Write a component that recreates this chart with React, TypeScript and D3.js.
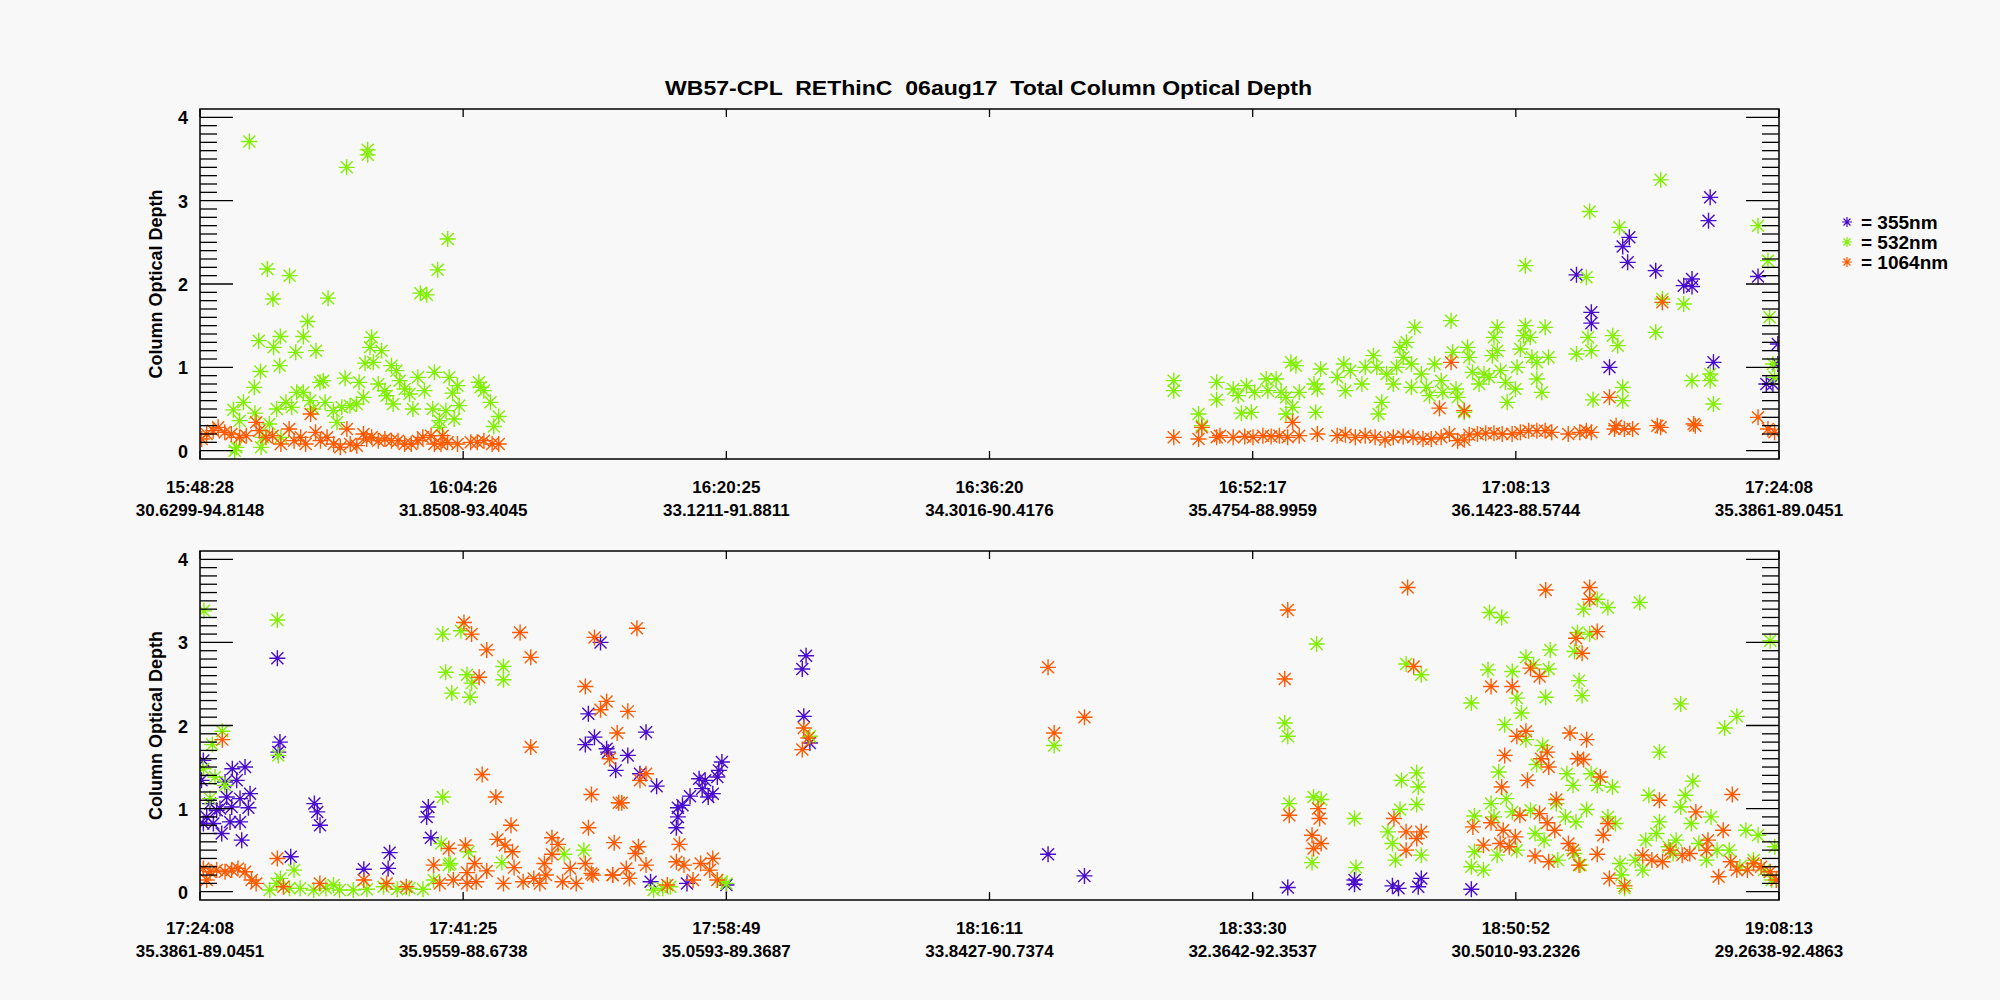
import React from "react";
import * as d3 from "d3";

// [minutes after panel start, optical depth]
type Pt = [number, number];

const title = "WB57-CPL  REThinC  06aug17  Total Column Optical Depth";
const yLabel = "Column Optical Depth";
const legendLabels = ["= 355nm", "= 532nm", "= 1064nm"];
const colors = ["#4a0ccc", "#80f000", "#ff5a00"];

const topSpan = 95.67;
const bottomSpan = 104.08;
const topTimes = ["15:48:28", "16:04:26", "16:20:25", "16:36:20", "16:52:17", "17:08:13", "17:24:08"];
const topCoords = ["30.6299-94.8148", "31.8508-93.4045", "33.1211-91.8811", "34.3016-90.4176", "35.4754-88.9959", "36.1423-88.5744", "35.3861-89.0451"];
const bottomTimes = ["17:24:08", "17:41:25", "17:58:49", "18:16:11", "18:33:30", "18:50:52", "19:08:13"];
const bottomCoords = ["35.3861-89.0451", "35.9559-88.6738", "35.0593-89.3687", "33.8427-90.7374", "32.3642-92.3537", "30.5010-93.2326", "29.2638-92.4863"];

const top355: Pt[] = [
  [91.5, 3.04], [91.4, 2.76], [86.6, 2.56], [86.2, 2.45], [86.5, 2.26], [83.4, 2.11], [88.2, 2.16], [89.9, 1.98],
  [90.4, 2.06], [90.4, 1.97], [84.3, 1.66], [84.3, 1.53], [85.4, 1.0], [91.7, 1.06], [94.4, 2.09], [95.6, 1.28],
  [95.3, 0.8], [95.6, 1.04], [94.9, 0.8],
];
const top532: Pt[] = [
  [2.99, 3.71], [8.89, 3.4], [10.16, 3.61], [10.16, 3.55], [4.08, 2.18], [5.43, 2.1], [4.42, 1.82], [7.76, 1.83],
  [15.01, 2.54], [14.4, 2.17], [13.35, 1.89], [13.74, 1.87], [3.56, 1.32], [4.46, 1.24], [4.87, 1.37], [4.83, 1.02],
  [5.8, 1.18], [6.26, 1.37], [6.52, 1.55], [7.03, 1.2], [3.66, 0.95], [3.29, 0.76], [2.63, 0.58], [2.02, 0.49],
  [3.33, 0.45], [4.65, 0.5], [5.21, 0.58], [5.86, 0.7], [6.26, 0.7], [5.56, 0.52], [6.67, 0.6], [7.27, 0.82],
  [7.47, 0.84], [6.87, 0.5], [7.58, 0.58], [8.08, 0.48], [8.79, 0.87], [8.59, 0.52], [9.09, 0.54], [9.49, 0.56],
  [9.64, 0.82], [9.9, 0.64], [10.0, 1.05], [10.4, 1.36], [10.3, 1.24], [10.5, 1.06], [11.0, 1.2], [10.8, 0.8],
  [11.2, 0.72], [11.3, 0.66], [11.7, 0.56], [11.6, 1.02], [11.9, 0.96], [12.1, 0.84], [12.4, 0.74], [12.7, 0.68],
  [12.9, 0.5], [13.2, 0.88], [13.6, 0.72], [14.2, 0.94], [14.1, 0.5], [14.5, 0.36], [14.5, 0.28], [14.9, 0.48],
  [15.1, 0.88], [15.3, 0.69], [15.6, 0.78], [15.7, 0.54], [15.4, 0.38], [16.9, 0.82], [17.0, 0.76], [17.2, 0.72],
  [17.6, 0.58], [17.8, 0.29], [18.1, 0.41], [2.2, 0.04], [2.1, 0.0], [3.7, 0.04], [2.4, 0.36], [3.8, 0.16],
  [4.2, 0.32], [4.9, 0.16], [8.3, 0.34],
  [59.0, 0.84], [59.0, 0.72], [60.5, 0.44], [60.7, 0.3], [61.6, 0.82], [61.6, 0.61], [62.6, 0.74], [62.9, 0.66],
  [63.1, 0.45], [63.4, 0.78], [63.7, 0.46], [63.9, 0.7], [64.6, 0.86], [64.7, 0.72], [65.2, 0.86], [65.5, 0.7],
  [65.8, 0.64], [65.8, 0.44], [66.1, 1.06], [66.4, 1.02], [66.2, 0.52], [66.6, 0.7], [67.5, 0.8], [67.9, 0.98],
  [67.6, 0.46], [67.7, 0.74], [68.9, 0.88], [69.3, 1.04], [69.4, 0.72], [69.7, 0.96], [70.4, 0.8], [70.6, 1.0],
  [71.1, 1.14], [71.3, 1.0], [71.4, 0.44], [71.6, 0.58], [71.9, 0.92], [72.3, 0.8], [72.5, 1.0], [72.7, 1.24],
  [73.1, 1.3], [72.9, 1.12], [73.4, 1.04], [73.6, 1.48], [73.4, 0.76], [74.0, 0.92], [74.3, 0.76], [74.5, 0.66],
  [74.8, 1.04], [75.2, 0.84], [75.3, 0.7], [75.8, 1.56], [75.9, 1.18], [76.1, 0.74], [76.2, 0.64], [76.6, 0.46],
  [76.8, 1.24], [76.9, 1.12], [77.1, 0.94], [77.5, 0.8], [77.8, 0.92], [78.1, 0.88], [78.3, 1.14], [78.4, 1.36],
  [78.6, 1.48], [78.6, 1.2], [78.8, 0.96], [79.1, 0.82], [79.2, 0.58], [79.7, 0.74], [79.8, 1.0], [80.0, 1.22],
  [80.2, 1.38], [80.3, 1.5], [80.3, 2.22], [80.6, 1.36], [80.7, 1.12], [81.0, 1.06], [81.0, 0.86], [81.3, 0.7],
  [81.5, 1.48], [81.7, 1.12], [83.4, 1.16], [84.0, 2.08], [84.1, 1.36], [84.3, 1.2], [84.4, 0.61], [85.6, 1.38],
  [85.9, 1.26], [86.0, 2.68], [86.2, 0.6], [86.2, 0.76], [88.5, 3.25], [84.2, 2.87], [88.6, 1.82], [89.9, 1.76],
  [88.2, 1.42], [90.4, 0.84], [91.5, 0.84], [91.7, 0.56], [91.5, 0.92], [94.4, 2.7], [95.0, 2.28], [95.1, 1.6],
  [95.3, 1.04], [95.4, 0.88],
];
const top1064: Pt[] = [
  [0.1, 0.14], [0.4, 0.2], [0.8, 0.24], [1.1, 0.28], [1.5, 0.22], [1.9, 0.2], [2.4, 0.16], [2.8, 0.18],
  [3.4, 0.34], [3.6, 0.24], [4.0, 0.16], [4.4, 0.18], [4.9, 0.08], [5.4, 0.26], [5.7, 0.12], [6.1, 0.16],
  [6.4, 0.08], [6.7, 0.44], [7.0, 0.22], [7.3, 0.12], [7.7, 0.16], [8.1, 0.08], [8.5, 0.04], [8.9, 0.26],
  [9.1, 0.08], [9.5, 0.06], [9.9, 0.2], [10.1, 0.14], [10.4, 0.16], [10.8, 0.12], [11.2, 0.14], [11.6, 0.12],
  [12.0, 0.12], [12.4, 0.08], [12.8, 0.08], [13.2, 0.12], [13.5, 0.16], [14.0, 0.18], [14.2, 0.08], [14.6, 0.08],
  [15.0, 0.1], [15.6, 0.08], [16.8, 0.1], [17.2, 0.12], [17.7, 0.08], [18.1, 0.08], [16.4, 0.1], [14.7, 0.18],
  [59.0, 0.16], [60.5, 0.14], [60.7, 0.28], [61.6, 0.16], [61.8, 0.18], [62.6, 0.16], [63.3, 0.17], [63.8, 0.16],
  [64.4, 0.18], [64.9, 0.17], [65.4, 0.18], [65.9, 0.16], [66.2, 0.34], [66.6, 0.18], [67.7, 0.2], [68.9, 0.18],
  [69.4, 0.19], [70.0, 0.16], [70.6, 0.18], [71.2, 0.16], [71.8, 0.13], [72.3, 0.16], [72.9, 0.17], [73.5, 0.16],
  [74.1, 0.14], [74.6, 0.14], [75.2, 0.16], [75.7, 0.2], [75.8, 1.06], [76.2, 0.12], [76.6, 0.13], [76.9, 0.19],
  [76.6, 0.48], [75.1, 0.51], [77.4, 0.2], [77.9, 0.21], [78.4, 0.21], [78.9, 0.2], [79.5, 0.2], [80.0, 0.22],
  [80.5, 0.24], [81.0, 0.24], [81.5, 0.24], [81.9, 0.22], [82.9, 0.2], [83.6, 0.22], [84.0, 0.24], [84.3, 0.22],
  [85.4, 0.64], [85.8, 0.3], [86.3, 0.26], [86.8, 0.26], [88.6, 1.78], [90.5, 0.32], [94.4, 0.4], [95.0, 0.26],
  [95.4, 0.22], [88.3, 0.3], [85.7, 0.26], [88.5, 0.28], [90.6, 0.3],
];

const bottom355: Pt[] = [
  [5.1, 2.81], [5.27, 1.8], [5.16, 1.68], [0.22, 1.58], [2.13, 1.48], [2.97, 1.5], [2.42, 1.34], [1.65, 1.32],
  [3.3, 1.18], [2.64, 1.12], [1.76, 1.14], [3.19, 1.01], [2.09, 1.02], [1.32, 1.0], [0.66, 1.06], [1.1, 0.98],
  [0.44, 0.9], [1.98, 0.84], [2.64, 0.84], [0.88, 0.82], [0.22, 0.82], [1.43, 0.7], [2.75, 0.62], [0.1, 1.34],
  [7.54, 1.06], [7.73, 0.96], [7.91, 0.8], [15.05, 1.02], [14.94, 0.9], [15.22, 0.65], [25.6, 2.14], [26.0, 1.86],
  [25.4, 1.77], [26.8, 1.72], [26.4, 3.0], [27.4, 1.46], [5.98, 0.42], [12.5, 0.47], [12.4, 0.28], [10.8, 0.27],
  [26.9, 1.68], [39.95, 2.84], [39.7, 2.68], [39.8, 2.11], [40.2, 1.79], [29.4, 1.92], [28.2, 1.64], [29.0, 1.42],
  [30.1, 1.27], [34.4, 1.56], [34.2, 1.46], [34.1, 1.38], [32.9, 1.36], [33.3, 1.34], [33.1, 1.24], [33.8, 1.18],
  [33.5, 1.14], [32.3, 1.15], [31.8, 1.04], [31.5, 1.01], [31.5, 0.9], [31.4, 0.77], [55.9, 0.45], [58.3, 0.19],
  [32.1, 0.1], [29.7, 0.12], [34.7, 0.08], [71.7, 0.05], [76.1, 0.09], [78.6, 0.07], [79.0, 0.04], [80.3, 0.06],
  [80.5, 0.16], [83.8, 0.03], [76.1, 0.14],
];
const bottom532: Pt[] = [
  [0.26, 3.38], [5.1, 3.27], [5.16, 1.64], [1.47, 1.93], [0.81, 1.77], [0.99, 1.38], [1.65, 1.28], [0.66, 1.12],
  [0.22, 1.48], [16.0, 3.1], [17.2, 3.14], [16.2, 2.64], [17.6, 2.61], [16.6, 2.39], [17.8, 2.34], [17.9, 2.51],
  [20.0, 2.71], [20.0, 2.55], [16.0, 1.14], [15.9, 0.58], [17.7, 0.48], [24.0, 0.45], [25.3, 0.5], [19.9, 0.35],
  [16.4, 0.32], [4.6, 0.02], [5.3, 0.16], [6.2, 0.26], [6.6, 0.04], [7.5, 0.02], [8.3, 0.04], [9.2, 0.02],
  [10.1, 0.02], [11.0, 0.03], [12.1, 0.06], [13.0, 0.03], [13.8, 0.04], [14.7, 0.03], [15.4, 0.14], [16.5, 0.34],
  [5.05, 0.1], [5.9, 0.04], [8.8, 0.08], [40.2, 1.87], [56.3, 1.76], [34.7, 0.1], [30.5, 0.04], [29.9, 0.02],
  [31.0, 0.06], [34.4, 0.12],
  [73.6, 2.98], [71.5, 2.03], [71.7, 1.87], [71.8, 1.06], [73.4, 1.14], [73.9, 1.11], [73.3, 0.35], [76.1, 0.88],
  [76.2, 0.29], [79.5, 2.74], [80.5, 2.61], [79.2, 1.34], [80.2, 1.43], [80.3, 1.26], [80.2, 1.05], [79.1, 0.99],
  [78.3, 0.72], [78.6, 0.58], [78.8, 0.38], [80.5, 0.44], [85.0, 3.36], [85.8, 3.3], [91.2, 3.4], [92.1, 3.52],
  [92.8, 3.42], [94.9, 3.48], [90.8, 3.12], [91.6, 3.1], [90.6, 2.89], [87.4, 2.82], [89.0, 2.91], [84.9, 2.67],
  [86.5, 2.65], [87.9, 2.73], [88.9, 2.68], [90.9, 2.54], [91.1, 2.36], [83.8, 2.27], [86.8, 2.33], [87.1, 2.15],
  [88.7, 2.34], [97.6, 2.26], [101.3, 2.11], [100.5, 1.97], [86.0, 2.01], [87.4, 1.83], [88.5, 1.76], [88.1, 1.53],
  [85.6, 1.44], [90.1, 1.42], [90.5, 1.28], [91.7, 1.42], [96.2, 1.68], [92.1, 1.28], [93.1, 1.26], [98.4, 1.33],
  [95.5, 1.16], [97.9, 1.16], [103.5, 3.02], [86.1, 1.12], [85.1, 1.06], [84.0, 0.91], [85.3, 0.9], [87.7, 0.98],
  [86.5, 0.96], [89.4, 1.06], [91.4, 0.99], [90.0, 0.9], [90.7, 0.84], [92.8, 0.9], [93.3, 0.82], [97.6, 1.02],
  [99.6, 0.9], [96.2, 0.84], [101.9, 0.74], [102.7, 0.68], [84.0, 0.48], [85.5, 0.44], [86.8, 0.5], [88.6, 0.62],
  [88.0, 0.7], [89.5, 0.38], [90.6, 0.46], [91.0, 0.32], [83.8, 0.3], [84.6, 0.26], [93.6, 0.34], [93.9, 0.04],
  [93.7, 0.2], [94.6, 0.38], [95.3, 0.62], [96.0, 0.7], [96.8, 0.54], [97.3, 0.62], [98.3, 0.82], [98.8, 0.58],
  [99.3, 0.38], [100.0, 0.5], [100.8, 0.5], [101.5, 0.3], [102.4, 0.38], [103.1, 0.26], [103.8, 0.54], [103.6, 0.14],
  [95.1, 0.26], [97.1, 0.46],
];
const bottom1064: Pt[] = [
  [17.4, 3.24], [17.9, 3.1], [21.1, 3.12], [18.9, 2.91], [21.8, 2.82], [18.4, 2.58], [26.0, 3.06], [25.4, 2.47],
  [26.8, 2.29], [26.4, 2.19], [27.5, 1.91], [21.8, 1.74], [18.6, 1.41], [19.5, 1.14], [25.8, 1.17], [27.6, 1.07],
  [20.5, 0.8], [25.6, 0.77], [1.47, 1.83], [27.3, 0.59], [19.6, 0.63], [23.2, 0.65], [23.6, 0.57], [17.5, 0.56],
  [16.4, 0.52], [20.1, 0.56], [20.6, 0.48], [23.2, 0.45], [22.7, 0.34], [18.1, 0.34], [18.9, 0.25], [17.6, 0.23],
  [20.7, 0.29], [24.4, 0.28], [25.4, 0.34], [25.8, 0.22], [27.2, 0.2], [5.1, 0.4], [0.22, 0.28], [0.66, 0.24],
  [1.1, 0.26], [1.65, 0.24], [2.09, 0.26], [2.5, 0.28], [2.97, 0.24], [3.4, 0.14], [3.7, 0.1], [0.44, 0.14],
  [5.5, 0.06], [7.9, 0.1], [10.8, 0.14], [12.3, 0.1], [13.6, 0.06], [15.4, 0.32], [15.8, 0.1], [16.7, 0.14],
  [17.6, 0.1], [18.2, 0.12], [20.0, 0.1], [21.3, 0.12], [22.0, 0.16], [22.4, 0.1], [23.9, 0.12], [24.8, 0.1],
  [25.9, 0.2], [22.8, 0.2], [28.8, 3.17], [28.2, 2.17], [27.0, 1.6], [29.4, 1.42], [29.0, 1.34], [27.8, 1.07],
  [28.9, 0.54], [28.7, 0.46], [31.6, 0.57], [29.4, 0.32], [28.1, 0.28], [27.2, 0.2], [28.3, 0.16], [31.4, 0.36],
  [31.9, 0.32], [33.0, 0.34], [33.8, 0.4], [33.6, 0.26], [32.5, 0.14], [30.8, 0.08], [34.1, 0.14], [39.8, 1.97],
  [39.7, 1.71], [40.1, 1.85], [55.9, 2.7], [56.3, 1.91], [58.3, 2.1],
  [71.7, 3.39], [71.5, 2.56], [71.8, 0.92], [73.3, 0.68], [73.7, 1.0], [73.8, 0.88], [73.9, 0.58], [73.4, 0.52],
  [79.6, 3.66], [80.0, 2.71], [78.7, 0.88], [79.5, 0.72], [80.2, 0.64], [80.5, 0.72], [79.5, 0.5], [88.7, 3.63],
  [91.6, 3.66], [91.6, 3.52], [92.1, 3.13], [90.7, 3.05], [91.1, 2.87], [87.7, 2.69], [88.3, 2.59], [85.1, 2.47],
  [86.5, 2.47], [86.8, 1.87], [87.4, 1.93], [90.3, 1.91], [91.4, 1.83], [86.0, 1.64], [88.8, 1.68], [88.4, 1.6],
  [88.9, 1.5], [90.8, 1.6], [91.2, 1.59], [87.5, 1.34], [85.8, 1.26], [92.3, 1.38], [96.2, 1.1], [101.0, 1.17],
  [89.4, 1.11], [87.0, 0.92], [88.3, 0.94], [88.8, 0.83], [89.3, 0.74], [85.1, 0.83], [83.9, 0.78], [85.9, 0.74],
  [86.7, 0.66], [84.6, 0.56], [85.7, 0.58], [86.3, 0.54], [90.2, 0.58], [90.5, 0.5], [92.1, 0.45], [92.5, 0.68],
  [92.8, 0.82], [88.0, 0.43], [88.9, 0.36], [90.9, 0.32], [92.9, 0.16], [93.9, 0.07], [95.1, 0.44], [95.7, 0.38],
  [96.9, 0.5], [97.7, 0.44], [98.6, 0.96], [99.4, 0.62], [100.4, 0.74], [100.1, 0.18], [101.3, 0.26], [102.0, 0.26],
  [102.9, 0.3], [103.5, 0.24], [103.9, 0.14], [96.4, 0.36], [98.2, 0.46], [99.3, 0.5], [100.9, 0.36], [102.4, 0.34],
];

const left = 200;
const right = 1779;
const FONT = "'Liberation Sans', Arial, sans-serif";
const star = "M0,-8V8M-8,0H8M-6,-6L6,6M-6,6L6,-6";

type PanelProps = {
  top: number;
  bottom: number;
  span: number;
  times: string[];
  coords: string[];
  series: Pt[][];
};

const Panel: React.FC<PanelProps> = ({ top, bottom, span, times, coords, series }) => {
  const x = d3.scaleLinear().domain([0, span]).range([left, right]);
  const y = d3.scaleLinear().domain([-0.1, 4.1]).range([bottom, top]);
  const xTicks = d3.range(7).map((i) => (i * span) / 6);
  const minor = d3.range(0, 41).map((i) => i / 10);
  return (
    <g>
      <defs>
        <clipPath id={`clip${top}`}>
          <rect x={left} y={top} width={right - left} height={bottom - top} />
        </clipPath>
      </defs>
      <g clipPath={`url(#clip${top})`}>
        {series.map((s, si) =>
          s.map((d, i) => (
            <path key={`${si}-${i}`} d={star} transform={`translate(${x(d[0])},${y(d[1])})`}
              stroke={colors[si]} strokeWidth={1.4} fill="none" />
          ))
        )}
      </g>
      <rect x={left} y={top} width={right - left} height={bottom - top} fill="none" stroke="#000" strokeWidth={1.5} />
      {minor.map((v, i) => {
        const len = i % 10 === 0 ? 33 : 17;
        return (
          <g key={i} stroke="#000" strokeWidth={1.3}>
            <line x1={left} x2={left + len} y1={y(v)} y2={y(v)} />
            <line x1={right} x2={right - len} y1={y(v)} y2={y(v)} />
          </g>
        );
      })}
      {[0, 1, 2, 3, 4].map((v) => (
        <text key={v} x={left - 12} y={y(v) + 7} textAnchor="end" fontFamily={FONT} fontWeight="bold" fontSize={18}>{v}</text>
      ))}
      {xTicks.map((t, i) => (
        <g key={i}>
          <line x1={x(t)} x2={x(t)} y1={top} y2={top + 8} stroke="#000" strokeWidth={1.3} />
          <line x1={x(t)} x2={x(t)} y1={bottom} y2={bottom - 8} stroke="#000" strokeWidth={1.3} />
          <text x={x(t)} y={bottom + 34} textAnchor="middle" fontFamily={FONT} fontWeight="bold" fontSize={17}>{times[i]}</text>
          <text x={x(t)} y={bottom + 57} textAnchor="middle" fontFamily={FONT} fontWeight="bold" fontSize={17}>{coords[i]}</text>
        </g>
      ))}
      <text transform={`translate(162,${(top + bottom) / 2}) rotate(-90)`} textAnchor="middle"
        fontFamily={FONT} fontWeight="bold" fontSize={18}>{yLabel}</text>
    </g>
  );
};

export default function App() {
  return (
    <svg width={2000} height={1000} style={{ position: "absolute", left: 0, top: 0, background: "#f8f8f8" }}>
      <rect width={2000} height={1000} fill="#f8f8f8" />
      <text x={665} y={95} textLength={647} lengthAdjust="spacingAndGlyphs" style={{ whiteSpace: "pre" }}
        fontFamily={FONT} fontWeight="bold" fontSize={21}>{title}</text>
      <Panel top={109} bottom={459} span={topSpan} times={topTimes} coords={topCoords} series={[top355, top532, top1064]} />
      <Panel top={551} bottom={900} span={bottomSpan} times={bottomTimes} coords={bottomCoords} series={[bottom355, bottom532, bottom1064]} />
      {legendLabels.map((l, i) => (
        <g key={l} transform={`translate(1847,${222 + i * 20})`}>
          <path d="M0,-5V5M-5,0H5M-3.5,-3.5L3.5,3.5M-3.5,3.5L3.5,-3.5" stroke={colors[i]} strokeWidth={1.2} fill="none" />
          <text x={14} y={7} fontFamily={FONT} fontWeight="bold" fontSize={19}>{l}</text>
        </g>
      ))}
    </svg>
  );
}
